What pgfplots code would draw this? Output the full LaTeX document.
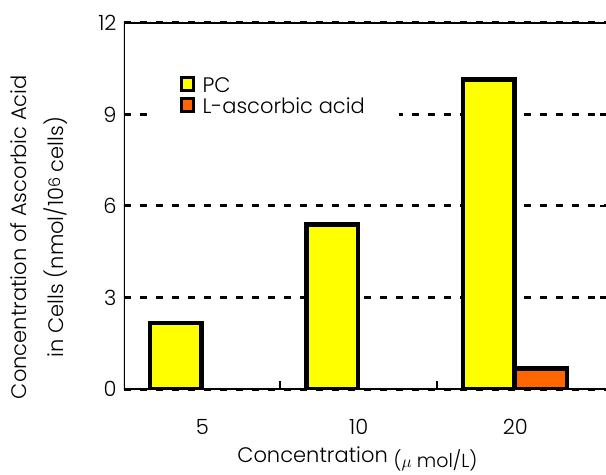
\documentclass[border=0pt]{standalone}
\usepackage{pgfplots}
\pgfplotsset{compat=1.18}
\usepackage{fontspec}
\setmainfont{Poppins Light}
\definecolor{pcyellow}{HTML}{FFFF00}
\definecolor{acorange}{HTML}{FF6600}

\begin{document}
\begin{tikzpicture}
\begin{axis}[
    width=482pt, height=366pt, scale only axis,
    xmin=-0.5, xmax=2.58, ymin=0, ymax=12,
    ybar, bar width=0.33,
    axis line style={draw=none},
    xtick={0,1,2}, xticklabels={5,10,20},
    ytick={0,3,6,9,12},
    tick align=inside,
    xtick style={draw=none},
    ytick style={line width=2.5pt, black},
    major tick length=6pt,
    ymajorgrids,
    grid style={line width=3pt, black, dash pattern=on 7pt off 9pt},
    /pgf/number format/assume math mode=true,
    ticklabel style={font=\fontsize{21}{24}\selectfont},
    xticklabel style={yshift=-27pt},
    yticklabel style={xshift=-4pt},
    xlabel={Concentration\ {\fontsize{19}{22}\selectfont\raisebox{-5pt}{($\mu$ mol/L)}}},
    xlabel style={at={(rel axis cs:0.484,0)}, anchor=center, yshift=-70pt,
        font=\fontsize{21}{24}\selectfont},
    ylabel={Concentration of Ascorbic Acid\\[13pt]in Cells (nmol/10\raisebox{3pt}{\fontsize{16}{18}\selectfont 6} cells)},
    ylabel style={at={(rel axis cs:-0.176,0.415)}, anchor=center, align=center,
        font=\fontsize{21}{24}\selectfont},
    legend cell align=left,
    legend style={at={(rel axis cs:0.05,0.89)}, anchor=north west, draw=none,
        fill=white, inner xsep=32pt, inner ysep=12pt,
        font=\fontsize{21}{22}\selectfont, row sep=0pt},
    legend image code/.code={
        \draw[#1, line width=2.6pt] (0pt,-5pt) rectangle (12pt,8pt);
        \path[draw=none, fill=none] (12pt,0pt) -- (19pt,0pt);},
]
\addplot[draw=black, line width=4.5pt, fill=pcyellow, bar shift=-0.17]
    coordinates {(0,2.16) (1,5.39) (2,10.15)};
\addlegendentry{PC}
\addplot[draw=black, line width=4.5pt, fill=acorange, bar shift=0.165]
    coordinates {(2,0.68)};
\addlegendentry{L-ascorbic acid}
\draw[line width=3pt, black] (rel axis cs:1,1) -- (rel axis cs:0,1) -- (rel axis cs:0,0) -- (rel axis cs:1,0);
% group separator ticks on the x axis
\draw[line width=2pt, black] (axis cs:0.5,0) -- ++(0pt,8pt);
\draw[line width=2pt, black] (axis cs:1.5,0) -- ++(0pt,8pt);
\coordinate (bl) at (rel axis cs:0,0);
\coordinate (tr) at (rel axis cs:1,1);
\end{axis}
\pgfresetboundingbox
\path[use as bounding box] ([shift={(-124pt,-86pt)}]bl) rectangle ([shift={(0pt,23pt)}]tr);
\end{tikzpicture}
\end{document}
